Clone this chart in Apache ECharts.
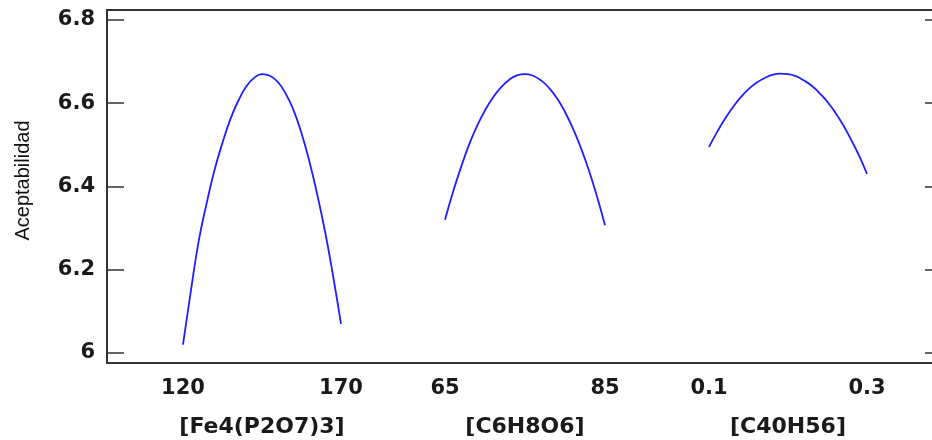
<!DOCTYPE html>
<html>
<head>
<meta charset="utf-8">
<script src="https://cdn.jsdelivr.net/npm/echarts@6/dist/echarts.min.js"></script>
<style>html,body{margin:0;padding:0;background:#fff;}#c{width:932px;height:440px;}</style>
</head>
<body>
<div id="c"></div>
<script>
// ---- data ----
const yTicks = [6, 6.2, 6.4, 6.6, 6.8];
const yName = 'Aceptabilidad';
const factorNames = ['[Fe4(P2O7)3]', '[C6H8O6]', '[C40H56]'];
const xTickLabels = [[120, 170], [65, 85], [0.1, 0.3]];

const feX = [120, 122.5, 125, 127.5, 130, 132.5, 135, 137.5, 140, 142.5, 145, 147.5, 150, 152.5, 155, 157.5, 160, 162.5, 165, 167.5, 170];
const feY = [6.02, 6.15, 6.27, 6.36, 6.44, 6.505, 6.562, 6.606, 6.64, 6.661, 6.67, 6.666, 6.651, 6.623, 6.583, 6.528, 6.46, 6.38, 6.29, 6.185, 6.07];

const c6X = [65, 66, 67, 68, 69, 70, 71, 72, 73, 74, 75, 76, 77, 78, 79, 80, 81, 82, 83, 84, 85];
const c6Y = [6.32, 6.387, 6.446, 6.50, 6.545, 6.583, 6.614, 6.638, 6.656, 6.667, 6.67, 6.666, 6.655, 6.637, 6.612, 6.579, 6.539, 6.492, 6.438, 6.376, 6.307];

const c40X = [0.10, 0.11, 0.12, 0.13, 0.14, 0.15, 0.16, 0.17, 0.18, 0.19, 0.20, 0.21, 0.22, 0.23, 0.24, 0.25, 0.26, 0.27, 0.28, 0.29, 0.30];
const c40Y = [6.495, 6.530, 6.562, 6.590, 6.614, 6.634, 6.649, 6.660, 6.668, 6.671, 6.670, 6.665, 6.655, 6.642, 6.624, 6.603, 6.577, 6.547, 6.512, 6.474, 6.430];

const segX = [feX, c6X, c40X];
const segY = [feY, c6Y, c40Y];

// ---- layout ----
const Y_MIN = 5.976, Y_MAX = 6.824;
const TOP = 10, HEIGHT = 353;
const segLayout = [{left: 183, width: 158}, {left: 445, width: 160}, {left: 709, width: 158}];
const labelFont = {fontFamily: 'DejaVu Sans', fontWeight: 'bold', fontSize: 21, color: '#1a1a1a'};
const nameFont = {fontFamily: 'DejaVu Sans', fontWeight: 'bold', fontSize: 22, color: '#1a1a1a'};
function frameLine() { return {show: true, onZero: false, lineStyle: {color: '#333', width: 2}}; }
function yTick() { return {show: true, inside: true, length: 17, lineStyle: {color: '#333', width: 1.5}, customValues: yTicks}; }

const grids = [{left: 107, top: TOP, width: 835, height: HEIGHT, show: false, outerBoundsMode: 'none'}];
const xAxes = [
  {gridIndex: 0, type: 'value', min: 0, max: 1, position: 'bottom', axisLine: frameLine(),
   axisTick: {show: false}, axisLabel: {show: false}, splitLine: {show: false}},
  {gridIndex: 0, type: 'value', min: 0, max: 1, position: 'top', axisLine: frameLine(),
   axisTick: {show: false}, axisLabel: {show: false}, splitLine: {show: false}}
];
const yAxes = [
  {gridIndex: 0, type: 'value', min: Y_MIN, max: Y_MAX, position: 'left',
   name: yName, nameLocation: 'middle', nameGap: 74,
   nameTextStyle: {fontFamily: 'Liberation Sans', fontSize: 20, color: '#111', padding: [0, 0, 0, 12]},
   axisLine: frameLine(), splitLine: {show: false}, axisTick: yTick(),
   axisLabel: Object.assign({margin: 12, customValues: yTicks}, labelFont)},
  {gridIndex: 0, type: 'value', min: Y_MIN, max: Y_MAX, position: 'right',
   axisLine: frameLine(), splitLine: {show: false}, axisTick: yTick(),
   axisLabel: {show: false}}
];
const series = [];

for (let i = 0; i < 3; i++) {
  grids.push({left: segLayout[i].left, width: segLayout[i].width, top: TOP, height: HEIGHT, show: false, outerBoundsMode: 'none'});
  xAxes.push({gridIndex: i + 1, type: 'value', min: xTickLabels[i][0], max: xTickLabels[i][1],
    name: factorNames[i], nameLocation: 'middle', nameGap: 53,
    nameTextStyle: Object.assign({}, nameFont),
    axisLine: {show: false, onZero: false}, axisTick: {show: false}, splitLine: {show: false},
    axisLabel: Object.assign({margin: 15, customValues: xTickLabels[i]}, labelFont)});
  yAxes.push({gridIndex: i + 1, type: 'value', min: Y_MIN, max: Y_MAX, show: false});
  series.push({type: 'line', xAxisIndex: i + 2, yAxisIndex: i + 2, showSymbol: false, smooth: true,
    data: segX[i].map((x, k) => [x, segY[i][k]]),
    lineStyle: {color: '#1f1fff', width: 1.8}, animation: false});
}

const chart = echarts.init(document.getElementById('c'));
chart.setOption({animation: false, grid: grids, xAxis: xAxes, yAxis: yAxes, series: series});
</script>
</body>
</html>
